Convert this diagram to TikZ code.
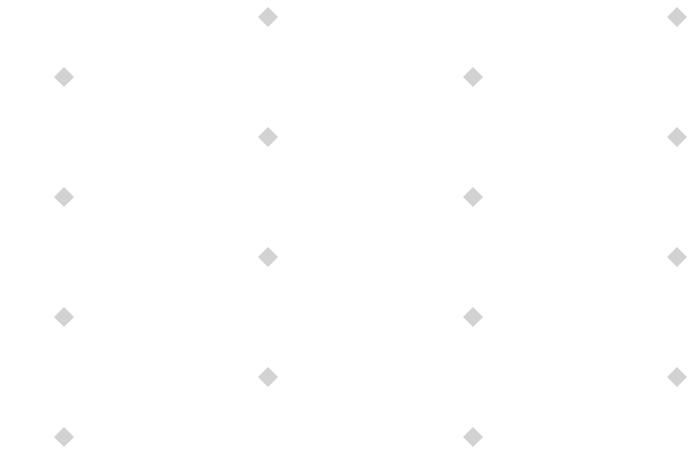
\documentclass[tikz,border=0pt]{standalone}
\usetikzlibrary{shapes.geometric}
\definecolor{dgray}{HTML}{D2D2D2}
\tikzset{gem/.style={diamond, fill=dgray, draw=none, inner sep=0pt, minimum width=20pt, minimum height=20pt}}
\begin{document}
\begin{tikzpicture}[x=1pt,y=-1pt]
\useasboundingbox[fill=white] (0,0) rectangle (700,458);
\foreach \cx/\cn in {64/a,473/c}{
  \foreach \cy/\rn in {77/1,197/2,317/3,437/4}{
    \node[gem] (\cn\rn) at (\cx,\cy) {};
  }
}
\foreach \cx/\cn in {268/b,677/d}{
  \foreach \cy/\rn in {17/1,137/2,257/3,377/4}{
    \node[gem] (\cn\rn) at (\cx,\cy) {};
  }
}
\end{tikzpicture}
\end{document}
